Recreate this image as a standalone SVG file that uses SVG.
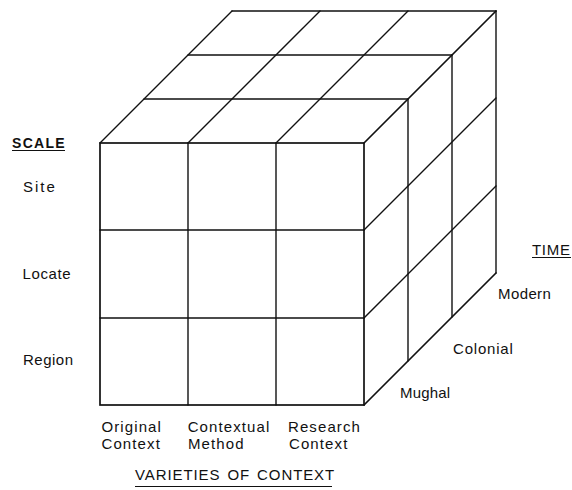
<svg xmlns="http://www.w3.org/2000/svg" width="572" height="490" viewBox="0 0 572 490">
<style>
  .ln { stroke:#111; stroke-width:1.4; fill:none; stroke-linecap:round; }
  .ed { stroke:#111; stroke-width:1.7; fill:none; stroke-linecap:round; }
  text { font-family:"Liberation Sans", Arial, sans-serif; font-size:15px; fill:#111; }
  .lab { letter-spacing:1.1px; }
  .ul { stroke:#111; stroke-width:1.2; }
</style>
<rect width="572" height="490" fill="#fff"/>
<g id="cube">
  <g id="top-face">
    <line class="ln" x1="232" y1="11" x2="496" y2="11"/>
    <line class="ln" x1="188" y1="55" x2="452" y2="55"/>
    <line class="ln" x1="144" y1="99" x2="408" y2="99"/>
    <line class="ln" x1="100" y1="143" x2="232" y2="11"/>
    <line class="ln" x1="188" y1="143" x2="320" y2="11"/>
    <line class="ln" x1="276" y1="143" x2="408" y2="11"/>
    <line class="ed" x1="364" y1="143" x2="496" y2="11"/>
  </g>
  <g id="right-face">
    <line class="ln" x1="408" y1="99" x2="408" y2="361"/>
    <line class="ln" x1="452" y1="55" x2="452" y2="317"/>
    <line class="ln" x1="496" y1="11" x2="496" y2="273"/>
    <line class="ln" x1="364" y1="230" x2="496" y2="98"/>
    <line class="ln" x1="364" y1="318" x2="496" y2="186"/>
    <line class="ed" x1="364" y1="405" x2="496" y2="273"/>
  </g>
  <g id="front-face">
    <rect class="ed" x="100" y="143" width="264" height="262"/>
    <line class="ln" x1="188" y1="143" x2="188" y2="405"/>
    <line class="ln" x1="276" y1="143" x2="276" y2="405"/>
    <line class="ln" x1="100" y1="230" x2="364" y2="230"/>
    <line class="ln" x1="100" y1="318" x2="364" y2="318"/>
  </g>
</g>
<g id="scale-axis">
  <text x="12" y="148" font-weight="bold" style="font-size:14px;letter-spacing:1.3px">SCALE</text>
  <line class="ul" x1="12" y1="150.5" x2="65" y2="150.5"/>
  <text x="23" y="192" style="letter-spacing:2px">Site</text>
  <text x="22.5" y="279" style="letter-spacing:0.6px">Locate</text>
  <text x="23" y="364.5" style="letter-spacing:0.5px">Region</text>
</g>
<g id="time-axis">
  <text x="532" y="255" style="letter-spacing:0.7px">TIME</text>
  <line class="ul" x1="532" y1="257.5" x2="571" y2="257.5"/>
  <text x="498" y="299.3" style="letter-spacing:0.4px">Modern</text>
  <text x="453" y="354" style="letter-spacing:0.8px">Colonial</text>
  <text x="400" y="397.5" style="letter-spacing:0.2px">Mughal</text>
</g>
<g id="context-axis">
  <text class="lab" x="101.5" y="431.7">Original</text>
  <text class="lab" x="101.5" y="449.3">Context</text>
  <text class="lab" x="187.7" y="431.7">Contextual</text>
  <text class="lab" x="188" y="449.3">Method</text>
  <text class="lab" x="288" y="431.7">Research</text>
  <text class="lab" x="289" y="449.3">Context</text>
  <text x="135" y="480" style="letter-spacing:0.9px;word-spacing:2px">VARIETIES OF CONTEXT</text>
  <line class="ul" x1="135" y1="486.5" x2="332" y2="486.5"/>
</g>
</svg>
